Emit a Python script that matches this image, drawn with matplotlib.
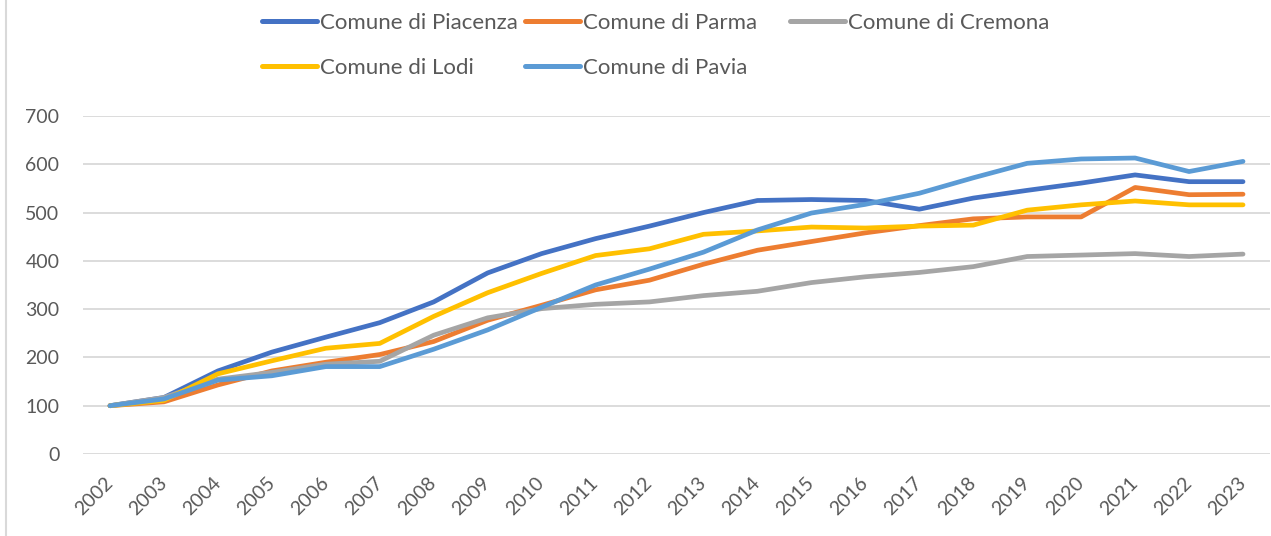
import matplotlib
matplotlib.use("Agg")
import matplotlib.pyplot as plt
from matplotlib.lines import Line2D

plt.rcParams['font.family'] = ['Lato', 'DejaVu Sans']

years = [str(y) for y in range(2002, 2024)]

piacenza = [100, 117, 172, 211, 242, 272, 315, 375, 415, 446, 472, 500, 525, 527, 525, 507, 530, 546, 561, 578, 564, 564]
parma    = [100, 108, 143, 172, 190, 206, 233, 277, 308, 340, 360, 393, 422, 440, 458, 473, 487, 491, 491, 552, 537, 538]
cremona  = [100, 117, 155, 169, 186, 192, 246, 282, 301, 310, 315, 328, 337, 355, 367, 376, 388, 409, 412, 415, 409, 414]
lodi     = [100, 111, 166, 193, 219, 229, 285, 334, 374, 411, 425, 455, 462, 470, 468, 472, 474, 505, 516, 524, 516, 516]
pavia    = [100, 114, 153, 162, 181, 181, 217, 257, 304, 350, 383, 418, 464, 499, 517, 540, 572, 602, 611, 613, 585, 606]

series = [
    ("Comune di Piacenza", piacenza, "#4472C4"),
    ("Comune di Parma", parma, "#ED7D31"),
    ("Comune di Cremona", cremona, "#A5A5A5"),
    ("Comune di Lodi", lodi, "#FFC000"),
    ("Comune di Pavia", pavia, "#5B9BD5"),
]

W, H = 1271, 536
fig = plt.figure(figsize=(W / 100, H / 100), dpi=100)
fig.patch.set_facecolor("white")
ax = fig.add_axes([83 / W, (H - 454) / H, (1270 - 83) / W, (454 - 116) / H])

x = list(range(len(years)))
handles = {}
for name, vals, col in series:
    ln, = ax.plot(x, vals, color=col, lw=3.4, solid_capstyle='round',
                  solid_joinstyle='round', label=name, zorder=3)
    handles[name] = ln

ax.set_xlim(-0.5, len(years) - 0.5)
ax.set_ylim(0, 700)
ax.set_yticks(range(0, 701, 100))
ax.yaxis.grid(True, color="#d9d9d9", lw=1.3)
ax.set_axisbelow(True)
for s in ax.spines.values():
    s.set_visible(False)
ax.set_xticks(x)
ax.set_xticklabels(years, rotation=45, ha='right', va='center', rotation_mode='anchor')
ax.tick_params(axis='both', length=0, labelsize=14, labelcolor="#595959")
ax.tick_params(axis='y', pad=17)
ax.tick_params(axis='x', pad=19)

fs = 16
fpx = fs * 100 / 72
cols = [(262, ["Comune di Piacenza", "Comune di Lodi"]),
        (525, ["Comune di Parma", "Comune di Pavia"]),
        (790, ["Comune di Cremona"])]
for xpx, names in cols:
    leg = fig.legend([handles[n] for n in names], names, loc='upper left',
                     bbox_to_anchor=(xpx / W, 1 - 13 / H), frameon=False,
                     borderpad=0, borderaxespad=0, fontsize=fs,
                     handlelength=55 / fpx, handletextpad=3 / fpx,
                     labelspacing=1.11, labelcolor="#595959")
    for lh in leg.get_lines():
        lh.set_linewidth(3.6)
        lh.set_solid_capstyle('round')

fig.add_artist(Line2D([6 / W, 6 / W], [0, 1], transform=fig.transFigure,
                      color="#d9d9d9", lw=1.5))

fig.savefig("out.png", dpi=100, facecolor="white")
